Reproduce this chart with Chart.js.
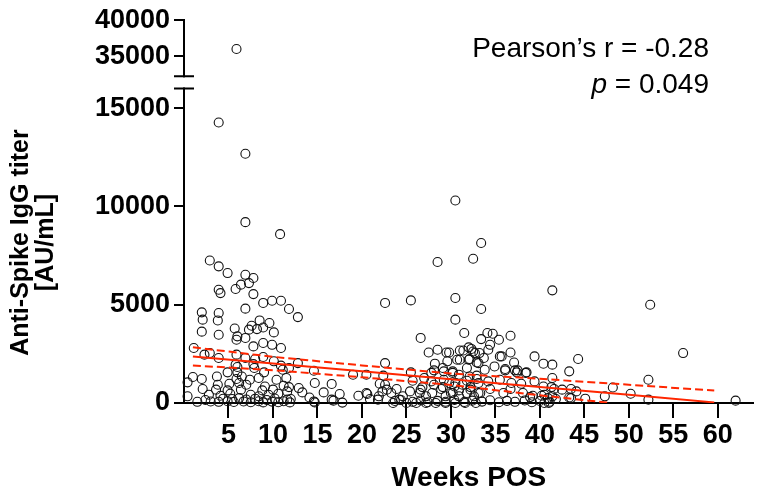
<!DOCTYPE html>
<html>
<head>
<meta charset="utf-8">
<script src="https://cdn.jsdelivr.net/npm/chart.js@4.4.1/dist/chart.umd.min.js"></script>
<style>
  html, body { margin: 0; padding: 0; background: #fff; }
  canvas { display: block; }
</style>
</head>
<body>
<canvas id="chart" width="759" height="498"></canvas>
<script>
// weeks post symptom onset vs anti-spike titer (AU/mL)
const weeks = [
  3.9, 6.9, 6.9, 10.8, 2.9, 3.9, 4.9, 6.9, 7.8, 7.3, 6.4, 5.8, 3.9, 4.1, 7.8, 8.9, 9.9, 10.9, 11.8, 6.9,
  2.0, 3.9, 2.1, 3.8, 8.5, 9.6, 7.6, 8.9, 5.7, 7.3, 8.2, 2.0, 3.9, 6.0, 6.9, 5.9, 10.1, 8.9, 9.9, 10.9,
  7.8, 1.1, 2.3, 2.9, 3.9, 5.9, 6.9, 8.0, 8.9, 10.1, 5.8, 7.8, 6.0, 7.9, 10.9, 11.1, 4.9, 6.0, 9.0, 6.5,
  1.0, 2.0, 3.7, 5.9, 7.4, 8.4, 10.4, 11.5, 0.4, 3.8, 5.1, 6.2, 7.0, 9.1, 11.2, 2.1, 3.6, 4.9, 6.4, 8.8,
  10.0, 11.6, 0.4, 2.8, 4.1, 5.2, 7.5, 8.4, 9.5, 10.6, 3.0, 3.9, 4.9, 5.6, 6.7, 7.5, 8.4, 8.9, 9.9, 10.6,
  11.2, 11.9, 5.4, 6.2, 7.0, 8.0, 9.3, 10.2, 11.6, 4.4, 2.4, 1.5,
  12.8, 14.6, 14.7, 15.7, 16.6, 17.5, 17.8, 16.6, 19.0, 19.6, 20.5, 14.7, 14.1, 13.3, 12.9, 11.8, 12.8, 22.4, 14.6, 11.8,
  16.8, 20.6, 20.9, 21.8, 22.3, 22.6, 22.0, 22.6, 22.6, 20.5, 21.9, 12.0,
  30.5, 33.4, 28.5, 32.5, 41.4, 25.5, 30.5, 30.5, 33.4, 31.5, 26.6, 34.1, 34.7, 33.4, 34.4, 35.4, 36.7, 27.5, 28.5, 29.5,
  29.8, 31.0, 31.4, 32.0, 32.5, 33.2, 34.2, 35.5, 35.7, 36.7, 39.4, 40.4, 41.4, 28.2, 29.6, 30.7, 32.0, 32.9, 33.7, 37.1,
  25.5, 28.1, 29.1, 30.2, 31.8, 33.8, 34.9, 36.1, 37.4, 38.4, 25.7, 27.0, 27.8, 29.2, 30.5, 31.8, 32.9, 34.2, 35.5, 36.8,
  37.9, 39.4, 40.4, 41.3, 23.9, 25.4, 26.6, 27.9, 28.9, 30.0, 30.9, 32.2, 33.3, 34.4, 35.9, 36.7, 38.1, 38.9, 40.2, 40.9,
  23.7, 24.4, 25.7, 26.6, 27.4, 28.5, 29.4, 30.4, 31.5, 32.4, 33.5, 34.4, 35.4, 36.3, 37.2, 38.3, 39.1, 40.0, 41.1,
  32.3, 32.7, 31.0, 32.1, 33.1, 27.8, 29.2, 30.2, 30.9, 32.1, 32.9, 26.8, 28.1, 29.1, 29.8, 30.4, 31.3, 32.2, 33.1, 23.3,
  22.8, 24.6, 24.2, 26.5, 27.2, 29.4, 30.2, 30.9, 31.8, 32.6, 33.1, 23.5, 25.0, 26.1, 27.2, 28.3, 29.4, 30.5, 31.6, 32.8,
  43.3, 36.1, 37.2, 37.5, 38.5, 41.4, 42.5, 43.5, 41.6, 43.5, 41.8, 39.2, 40.5,
  44.3, 48.2, 52.2, 56.1, 44.1, 43.3, 45.1, 47.3, 50.2, 52.2, 62.0, 41.4, 40.5, 41.0, 52.4
];
const titers = [
  14270, 12680, 9200, 8590, 7250, 6950, 6610, 6520, 6360, 6100, 6020, 5800, 5760, 5590, 5540, 5090, 5200, 5200, 4780, 4800,
  4610, 4580, 4240, 4200, 4200, 4070, 3930, 3840, 3790, 3730, 3760, 3630, 3470, 3390, 3310, 3220, 3590, 3050, 2960, 2800,
  2880, 2800, 2460, 2540, 2290, 2460, 2290, 2240, 2340, 2120, 1950, 1980, 1830, 1780, 1900, 1690, 1560, 1560, 1560, 1350,
  1320, 1220, 1350, 1220, 1180, 1270, 1180, 1270, 1050, 930, 980, 1020, 930, 840, 880, 710, 680, 640, 680, 640,
  680, 590, 340, 420, 370, 470, 420, 340, 420, 470, 80, 60, 90, 50, 80, 40, 90, 30, 70, 40,
  90, 30, 200, 250, 180, 220, 150, 230, 180, 220, 150, 60,
  4370, 1640, 1020, 540, 970, 460, 20, 170, 1440, 370, 1440, 30, 280, 540, 760, 1780, 2030, 1390, 80, 810,
  120, 460, 200, 170, 590, 930, 980, 5090, 2030, 510, 340, 200,
  10300, 8140, 7170, 7340, 5730, 5220, 5340, 4240, 4780, 3560, 3310, 3560, 3520, 3250, 2960, 3220, 3420, 2570, 2710, 2570,
  2570, 2670, 2670, 2830, 2620, 2540, 2710, 2370, 2370, 2570, 2370, 2000, 1950, 2000, 2120, 2200, 2200, 2060, 2290, 2060,
  1560, 1660, 1780, 1610, 1780, 1690, 1860, 1660, 1560, 1530, 1130, 1270, 1100, 1180, 1020, 1130, 1220, 1100, 1180, 1020,
  980, 1100, 840, 810, 710, 590, 680, 510, 710, 510, 640, 680, 510, 710, 510, 710, 510, 300, 370, 250,
  100, 150, 60, 130, 40, 110, 60, 150, 50, 120, 70, 140, 40, 110, 60, 130, 40, 100, 60,
  2750, 2540, 2200, 2240, 2030, 1530, 1610, 1530, 1440, 1350, 1390, 810, 930, 810, 1020, 840, 930, 810, 1020, 510,
  680, 340, 170, 510, 340, 340, 510, 340, 510, 340, 510, 0, 0, 0, 0, 0, 0, 0, 0, 0,
  1610, 1730, 1660, 1660, 1560, 1270, 680, 710, 710, 250, 200, 370, 0,
  2240, 790, 1180, 2540, 590, 280, 220, 340, 470, 170, 120, 340, 420, 0, 5000
];

// the one point above the axis break
const topWeeks = [5.9];
const topTiters = [36000];

// linear fit and its 95% band
const fitWeeks = [1, 10, 20, 30, 40, 50, 59.6];
const fitTiters = [2370, 2010, 1610, 1210, 810, 420, 30];
const upperWeeks = [1, 10, 20, 30, 40, 50, 59.6];
const upperTiters = [2830, 2350, 1910, 1500, 1230, 930, 630];
const lowerWeeks = [1, 10, 20, 30, 40, 48];
const lowerTiters = [1910, 1670, 1310, 920, 390, 0];

const xTicks = [5, 10, 15, 20, 25, 30, 35, 40, 45, 50, 55, 60];
const lowTicks = [0, 5000, 10000, 15000];
const highTicks = [35000, 40000];
const breakLowMax = 16000;
const breakHighMin = 32200;

const statLine1 = 'Pearson\u2019s r = -0.28';
const statP = 'p';
const statLine2 = ' = 0.049';

const FONT = '"Liberation Sans", Arial, Helvetica, sans-serif';
const RED = 'rgb(255, 38, 0)';

const pts = (xs, ys) => xs.map((x, i) => ({ x: x, y: ys[i] }));

const axisBreak = {
  id: 'axisBreak',
  afterDraw(chart) {
    const ctx = chart.ctx;
    const hi = chart.scales.yTop, lo = chart.scales.y;
    const x = lo.right;
    const y1 = hi.getPixelForValue(breakHighMin);
    const y2 = lo.getPixelForValue(breakLowMax);
    ctx.save();
    ctx.fillStyle = '#fff';
    ctx.fillRect(x - 4, y1 + 1, 8, y2 - y1 - 2);
    ctx.strokeStyle = '#000';
    ctx.lineWidth = 2;
    ctx.beginPath();
    ctx.moveTo(x - 10, y1); ctx.lineTo(x + 10, y1);
    ctx.moveTo(x - 10, y2); ctx.lineTo(x + 10, y2);
    ctx.stroke();
    ctx.restore();
  }
};

const stats = {
  id: 'stats',
  afterDraw(chart) {
    const ctx = chart.ctx;
    const right = 709;
    ctx.save();
    ctx.fillStyle = '#000';
    ctx.textAlign = 'right';
    ctx.textBaseline = 'alphabetic';
    ctx.font = '28px ' + FONT;
    ctx.fillText(statLine1, right, 57);
    ctx.fillText(statLine2, right, 93);
    const w = ctx.measureText(statLine2).width;
    ctx.font = 'italic 28px ' + FONT;
    ctx.fillText(statP, right - w, 93);
    ctx.restore();
  }
};

const yCommon = {
  type: 'linear',
  position: 'left',
  stack: 'titer',
  afterFit: s => { s.width = 184; },
  grid: { drawOnChartArea: false, drawTicks: true, tickLength: 10, color: '#000', lineWidth: 2 },
  border: { color: '#000', width: 2 },
  ticks: {
    color: '#000',
    padding: 4,
    font: { family: FONT, size: 27, weight: 'bold' },
    callback: v => String(v)
  }
};

new Chart(document.getElementById('chart'), {
  type: 'scatter',
  data: {
    datasets: [
      {
        data: pts(fitWeeks, fitTiters), yAxisID: 'y', showLine: true,
        borderColor: RED, borderWidth: 2, pointRadius: 0, order: 0
      },
      {
        data: pts(upperWeeks, upperTiters), yAxisID: 'y', showLine: true,
        borderColor: RED, borderWidth: 2, borderDash: [8, 4], pointRadius: 0, order: 0
      },
      {
        data: pts(lowerWeeks, lowerTiters), yAxisID: 'y', showLine: true,
        borderColor: RED, borderWidth: 2, borderDash: [8, 4], pointRadius: 0, order: 0
      },
      {
        data: pts(weeks, titers), yAxisID: 'y', clip: false,
        pointRadius: 4.5, pointBorderWidth: 1.1, pointBorderColor: '#111',
        pointBackgroundColor: 'rgba(0,0,0,0)', order: 1
      },
      {
        data: pts(topWeeks, topTiters), yAxisID: 'yTop', clip: false,
        pointRadius: 4.5, pointBorderWidth: 1.1, pointBorderColor: '#111',
        pointBackgroundColor: 'rgba(0,0,0,0)', order: 1
      }
    ]
  },
  options: {
    responsive: false,
    animation: false,
    layout: { padding: { top: 20, right: 0, bottom: 0, left: 0 } },
    plugins: { legend: { display: false }, tooltip: { enabled: false } },
    scales: {
      x: {
        type: 'linear',
        min: 0,
        max: 64,
        afterBuildTicks: s => { s.ticks = xTicks.map(v => ({ value: v })); },
        afterFit: s => { s.height = 95; },
        grid: { drawOnChartArea: false, drawTicks: true, tickLength: 15, color: '#000', lineWidth: 2 },
        border: { color: '#000', width: 2 },
        ticks: {
          color: '#000', padding: 1, maxRotation: 0, autoSkip: false,
          font: { family: FONT, size: 27, weight: 'bold' },
          callback: v => String(v)
        },
        title: {
          display: true, text: 'Weeks POS', color: '#000',
          font: { family: FONT, size: 28, weight: 'bold', lineHeight: 1 },
          padding: { top: 0, bottom: 6 }
        }
      },
      y: Object.assign({}, yCommon, {
        min: 0,
        max: 16320,
        stackWeight: 321,
        weight: 0,
        afterBuildTicks: s => { s.ticks = lowTicks.map(v => ({ value: v })); },
        title: {
          display: true, text: ['Anti-Spike IgG titer', '[AU/mL]'], color: '#000',
          font: { family: FONT, size: 25, weight: 'bold', lineHeight: 1 },
          padding: { top: 9, bottom: 0 }
        }
      }),
      yTop: Object.assign({}, yCommon, {
        min: 31389,
        max: 40000,
        stackWeight: 62,
        weight: 1,
        afterBuildTicks: s => { s.ticks = highTicks.map(v => ({ value: v })); }
      })
    }
  },
  plugins: [axisBreak, stats]
});
</script>
</body>
</html>
